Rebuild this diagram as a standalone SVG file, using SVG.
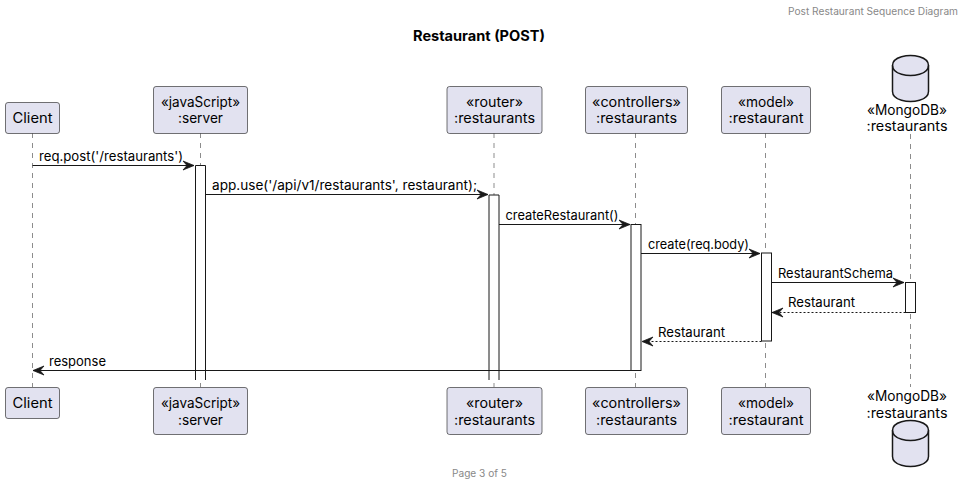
<svg xmlns="http://www.w3.org/2000/svg" width="965" height="486" viewBox="0 0 965 486">
<style>
text{font-family:"Inter","Liberation Sans",sans-serif;fill:#000}
.box{fill:#E2E2F0;stroke:#181818;stroke-width:.6}
.p{font-size:14px;text-anchor:middle}
.m{font-size:13px}
.life{stroke:#181818;stroke-width:.5;stroke-dasharray:5,5;fill:none}
.act{fill:#fff;stroke:#181818;stroke-width:1}
.msg{stroke:#181818;stroke-width:1;fill:none}
.ret{stroke:#181818;stroke-width:1;fill:none;stroke-dasharray:2,2}
.cyl{fill:#E2E2F0;stroke:#181818;stroke-width:1.5}
.cap{fill:none;stroke:#181818;stroke-width:1.5}
.g{font-size:10px;fill:#888}
</style>
<defs>
<marker id="arr" markerUnits="userSpaceOnUse" markerWidth="14" markerHeight="12" refX="13" refY="6" orient="auto-start-reverse"><path d="M2,1.500 L13,6 L2,10.500 L6,6 Z" fill="#181818" stroke="#181818" stroke-width=".8"/></marker>
<g id="db"><path class="cyl" d="M0,10 C0,0 18,0 18,0 C18,0 36,0 36,10 L36,36 C36,46 18,46 18,46 C18,46 0,46 0,36 Z"/><path class="cap" d="M0,10 C0,20 18,20 18,20 C18,20 36,20 36,10"/></g>
</defs>
<text class="g" x="958" y="15" text-anchor="end" textLength="170" lengthAdjust="spacingAndGlyphs">Post Restaurant Sequence Diagram</text>
<text x="479" y="41" font-size="14" font-weight="700" text-anchor="middle" textLength="132" lengthAdjust="spacingAndGlyphs">Restaurant (POST)</text>
<text class="g" x="479.500" y="477" text-anchor="middle" textLength="55" lengthAdjust="spacingAndGlyphs">Page 3 of 5</text>
<g id="lifelines">
<path class="life" d="M32.500,133V387"/>
<path class="life" d="M200.500,133V387"/>
<path class="life" d="M494,133V387"/>
<path class="life" d="M635.500,133V387"/>
<path class="life" d="M765.500,133V387"/>
<path class="life" d="M910.500,134V387"/>
</g>
<g id="activations">
<path class="act" d="M195.500,380V165.500H205.500V380"/>
<path class="act" d="M489,380V195H499V380"/>
<rect class="act" x="631" y="224.500" width="10" height="146"/>
<rect class="act" x="761.500" y="253" width="10" height="88"/>
<rect class="act" x="905.500" y="282.500" width="10" height="30"/>
</g>
<g id="connectors">
<path class="msg" marker-end="url(#arr)" d="M32.500,165.500H194"/>
<path class="msg" marker-end="url(#arr)" d="M205.500,194.500H488"/>
<path class="msg" marker-end="url(#arr)" d="M499,224.500H630"/>
<path class="msg" marker-end="url(#arr)" d="M641,253.500H760"/>
<path class="msg" marker-end="url(#arr)" d="M771.500,282.500H904"/>
<path class="ret" marker-end="url(#arr)" d="M905.500,312.500H772"/>
<path class="ret" marker-end="url(#arr)" d="M761.500,341.500H642"/>
<path class="msg" marker-end="url(#arr)" d="M631,370.500H33"/>
<text class="m" x="39" y="161" textLength="144" lengthAdjust="spacingAndGlyphs">req.post('/restaurants')</text>
<text class="m" x="212" y="190" textLength="265" lengthAdjust="spacingAndGlyphs">app.use('/api/v1/restaurants', restaurant);</text>
<text class="m" x="505.500" y="220" textLength="113" lengthAdjust="spacingAndGlyphs">createRestaurant()</text>
<text class="m" x="648" y="249" textLength="101" lengthAdjust="spacingAndGlyphs">create(req.body)</text>
<text class="m" x="778" y="278" textLength="115" lengthAdjust="spacingAndGlyphs">RestaurantSchema</text>
<text class="m" x="788" y="307" textLength="67" lengthAdjust="spacingAndGlyphs">Restaurant</text>
<text class="m" x="658" y="337" textLength="67" lengthAdjust="spacingAndGlyphs">Restaurant</text>
<text class="m" x="49" y="366" textLength="57" lengthAdjust="spacingAndGlyphs">response</text>
</g>
<g id="client-top"><rect class="box" x="5.500" y="102.500" width="54" height="31" rx="2.500"/><text class="p" x="32.500" y="123" textLength="40" lengthAdjust="spacingAndGlyphs">Client</text></g>
<g id="server-top"><rect class="box" x="153.500" y="86.500" width="94" height="47" rx="2.500"/><text class="p" x="200.500" y="107" textLength="79" lengthAdjust="spacingAndGlyphs">«javaScript»</text><text class="p" x="200.500" y="123" textLength="45" lengthAdjust="spacingAndGlyphs">:server</text></g>
<g id="router-top"><rect class="box" x="447" y="86.500" width="95" height="47" rx="2.500"/><text class="p" x="494.500" y="107" textLength="57" lengthAdjust="spacingAndGlyphs">«router»</text><text class="p" x="494.500" y="123" textLength="81" lengthAdjust="spacingAndGlyphs">:restaurants</text></g>
<g id="controllers-top"><rect class="box" x="585.500" y="86.500" width="102" height="47" rx="2.500"/><text class="p" x="636.500" y="107" textLength="89" lengthAdjust="spacingAndGlyphs">«controllers»</text><text class="p" x="636.500" y="123" textLength="81" lengthAdjust="spacingAndGlyphs">:restaurants</text></g>
<g id="model-top"><rect class="box" x="721.500" y="86.500" width="89" height="47" rx="2.500"/><text class="p" x="766" y="107" textLength="56" lengthAdjust="spacingAndGlyphs">«model»</text><text class="p" x="766" y="123" textLength="75" lengthAdjust="spacingAndGlyphs">:restaurant</text></g>
<g id="mongodb-top"><use href="#db" x="892.500" y="55.500"/><text class="p" x="907" y="115" textLength="80" lengthAdjust="spacingAndGlyphs">«MongoDB»</text><text class="p" x="907" y="131" textLength="81" lengthAdjust="spacingAndGlyphs">:restaurants</text></g>
<g id="client-bottom"><rect class="box" x="5.500" y="387.500" width="54" height="31" rx="2.500"/><text class="p" x="32.500" y="408" textLength="40" lengthAdjust="spacingAndGlyphs">Client</text></g>
<g id="server-bottom"><rect class="box" x="153.500" y="387.500" width="94" height="47" rx="2.500"/><text class="p" x="200.500" y="408" textLength="79" lengthAdjust="spacingAndGlyphs">«javaScript»</text><text class="p" x="200.500" y="425" textLength="45" lengthAdjust="spacingAndGlyphs">:server</text></g>
<g id="router-bottom"><rect class="box" x="447" y="387.500" width="95" height="47" rx="2.500"/><text class="p" x="494.500" y="408" textLength="57" lengthAdjust="spacingAndGlyphs">«router»</text><text class="p" x="494.500" y="425" textLength="81" lengthAdjust="spacingAndGlyphs">:restaurants</text></g>
<g id="controllers-bottom"><rect class="box" x="585.500" y="387.500" width="102" height="47" rx="2.500"/><text class="p" x="636.500" y="408" textLength="89" lengthAdjust="spacingAndGlyphs">«controllers»</text><text class="p" x="636.500" y="425" textLength="81" lengthAdjust="spacingAndGlyphs">:restaurants</text></g>
<g id="model-bottom"><rect class="box" x="721.500" y="387.500" width="89" height="47" rx="2.500"/><text class="p" x="766" y="408" textLength="56" lengthAdjust="spacingAndGlyphs">«model»</text><text class="p" x="766" y="425" textLength="75" lengthAdjust="spacingAndGlyphs">:restaurant</text></g>
<g id="mongodb-bottom"><text class="p" x="907" y="401" textLength="80" lengthAdjust="spacingAndGlyphs">«MongoDB»</text><text class="p" x="907" y="418" textLength="81" lengthAdjust="spacingAndGlyphs">:restaurants</text><use href="#db" x="892.500" y="420.500"/></g>
</svg>
